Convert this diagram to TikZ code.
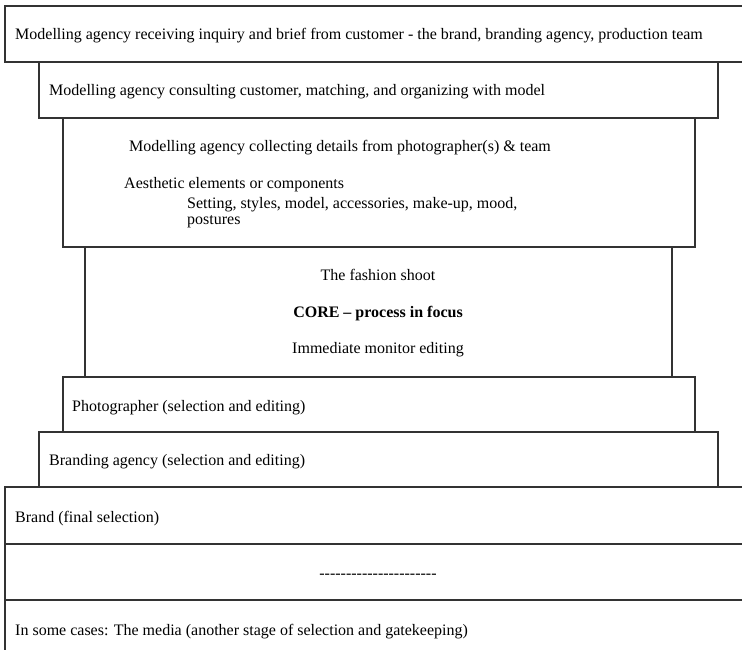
\documentclass[tikz,border=0pt]{standalone}
\usepackage{fontspec}
\setmainfont{Liberation Serif}
\tikzset{
  stage/.style={draw=black!80, line width=1.1pt},
  lbl/.style={inner sep=0pt, anchor=base west, font=\fontsize{16}{18}\selectfont},
  clbl/.style={inner sep=0pt, anchor=base, font=\fontsize{16}{18}\selectfont}
}
\begin{document}
\begin{tikzpicture}[x=1pt,y=-1pt]
\useasboundingbox[fill=white] (0,0) rectangle (742,650);
% stacked stages
\draw[stage] (5,6) rectangle (760,62);
\draw[stage] (39,62) rectangle (718,118);
\draw[stage] (63,118) rectangle (695,247);
\draw[stage] (85,247) rectangle (672,377);
\draw[stage] (63,377) rectangle (695,432);
\draw[stage] (39,432) rectangle (718,487);
\draw[stage] (5,487) rectangle (760,544);
\draw[stage] (5,544) rectangle (760,600);
\draw[stage] (5,600) rectangle (760,670);
% texts
\node[lbl] (t1) at (15,39.5) {Modelling agency receiving inquiry and brief from customer - the brand, branding agency, production team};
\node[lbl] (t2) at (49,96) {Modelling agency consulting customer, matching, and organizing with model};
\node[lbl] (t3a) at (129,152) {Modelling agency collecting details from photographer(s) \& team};
\node[lbl] (t3b) at (124,189) {Aesthetic elements or components};
\node[lbl] (t3c) at (187,208) {Setting, styles, model, accessories, make-up, mood,};
\node[lbl] (t3d) at (187,225) {postures};
\node[clbl] (t4a) at (378,280) {The fashion shoot};
\node[clbl] (t4b) at (378,317) {\bfseries CORE -- process in focus};
\node[clbl] (t4c) at (378,353) {Immediate monitor editing};
\node[lbl] (t5) at (72,411) {Photographer (selection and editing)};
\node[lbl] (t6) at (49,465) {Branding agency (selection and editing)};
\node[lbl] (t7) at (15,522) {Brand (final selection)};
\node[clbl] (t8) at (378,578) {\foreach \i in {1,...,22}{-\kern0pt}};
\node[lbl] (t9) at (15,635) {In some cases: The media (another stage of selection and gatekeeping)};
\end{tikzpicture}
\end{document}
